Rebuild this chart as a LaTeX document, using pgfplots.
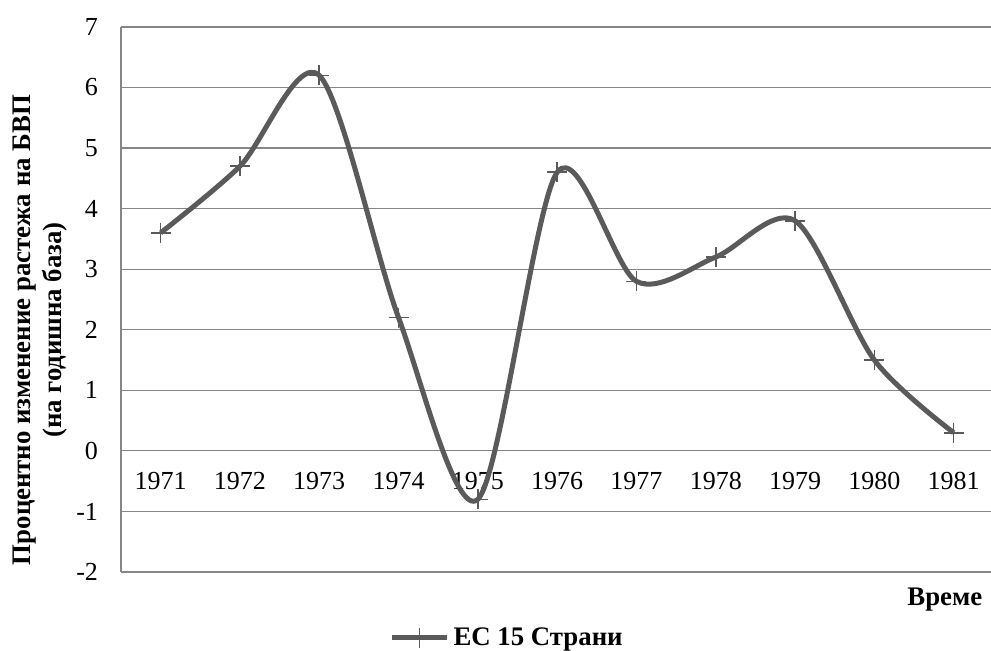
\documentclass[border=0pt]{standalone}
\usepackage{pgfplots}
\pgfplotsset{compat=1.18}
\usepackage{fontspec}
\setmainfont{Liberation Serif}
\definecolor{linegray}{HTML}{5A5A5A}
\definecolor{gridgray}{HTML}{868686}
\begin{document}
\begin{tikzpicture}
\begin{axis}[
  at={(0,0)}, anchor=south west,
  x=39.65pt, y=30.28pt,
  xmin=-0.5, xmax=10.47, ymin=-2, ymax=7,
  axis x line=middle, axis y line=left,
  axis line style={gridgray, line width=0.6pt, -},
  ymajorgrids, grid style={gridgray, line width=0.6pt},
  major tick length=0pt,
  xtick={0,...,10},
  xticklabels={1971,1972,1973,1974,1975,1976,1977,1978,1979,1980,1981},
  ytick={-2,...,7},
  yticklabels={-2,-1,0,1,2,3,4,5,6,7},
  every tick label/.append style={font=\fontsize{13}{15}\selectfont},
  xticklabel style={yshift=-7pt},
  yticklabel style={xshift=-8pt},
  clip=false,
  xlabel={Време},
  xlabel style={at={(axis description cs:0.947,-0.051)}, anchor=center, font=\fontsize{13.4}{16}\selectfont\bfseries},
  ylabel={Процентно изменение растежа на БВП\\(на годишна база)},
  ylabel style={at={(axis description cs:-0.0931,0.444)}, anchor=center, align=center, font=\fontsize{13.4}{15.5}\selectfont\bfseries},
  legend style={at={(axis description cs:0.4450,-0.121)}, anchor=center, draw=none, fill=none,
    font=\fontsize{13.4}{16}\selectfont\bfseries, inner sep=0pt},
  legend image code/.code={\draw[mark repeat=2,mark phase=2] plot coordinates {(0pt,0pt) (13.75pt,0pt) (27.5pt,0pt)};},
]
\addplot[linegray, line width=2.5pt, smooth, tension=0.5,
  mark=+, mark size=5pt, mark options={line width=0.8pt, linegray}]
  coordinates {(0,3.6) (1,4.7) (2,6.2) (3,2.2) (4,-0.8) (5,4.6) (6,2.8) (7,3.2) (8,3.8) (9,1.5) (10,0.3)};
\addlegendentry{ЕС 15 Страни}
\end{axis}
\pgfresetboundingbox
\path[use as bounding box] (-60.5pt,-39.5pt) rectangle (435pt,286pt);
\end{tikzpicture}
\end{document}
